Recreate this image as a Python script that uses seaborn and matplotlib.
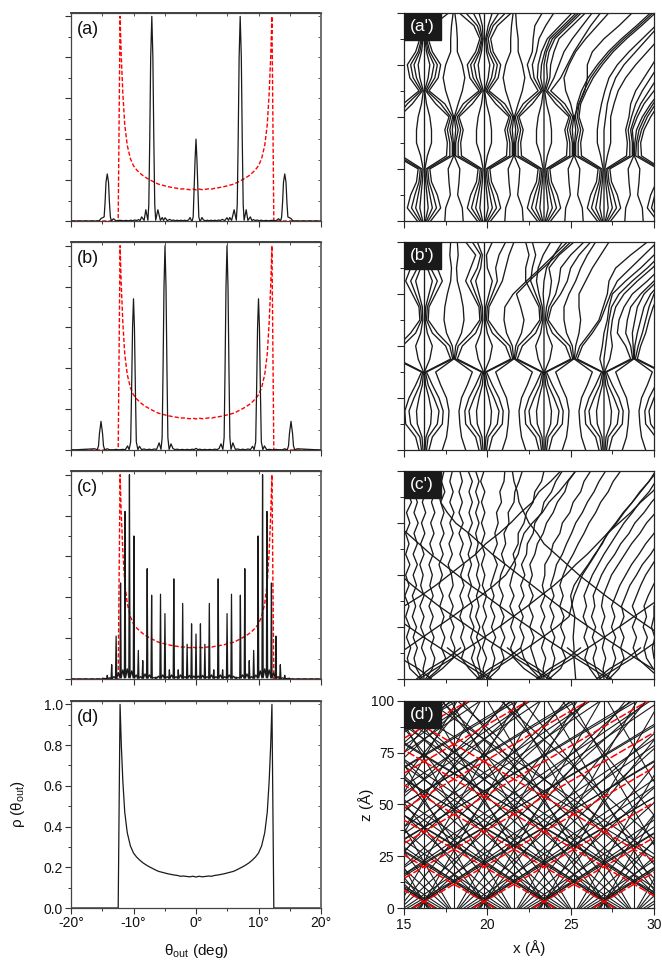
# -*- coding: utf-8 -*-
import numpy as np
import pandas as pd
import matplotlib
matplotlib.use('Agg')
import matplotlib.pyplot as plt
from matplotlib.patches import Rectangle
from matplotlib.ticker import MultipleLocator
import seaborn as sns

# angular distributions, right half only (theta >= 0), the picture is mirror symmetric
a_theta = [0, .15, .3, .45, .6, .75, .95, 1.2, 1.5, 1.8,
           2.1, 2.4, 2.7, 3, 3.3, 3.6, 3.9, 4.2, 4.6, 4.95,
           5.2, 5.4, 5.7, 6.1, 6.45, 6.6, 6.75, 6.9, 7.07, 7.25,
           7.4, 7.55, 7.7, 8.03, 8.3, 8.7, 8.95, 9.2, 9.5, 9.8,
           10.1, 10.4, 10.8, 11.2, 11.6, 12, 12.4, 12.8, 13.2, 13.55,
           13.7, 13.85, 14.0, 14.2, 14.4, 14.55, 14.7, 15.2, 15.5, 16, 20]
a_rho = [.40, .30, .16, .02, .002, .003, .017, .005, .001, .004,
         .001, .004, .001, .004, .001, .005, .002, .008, .002, .016,
         .003, .017, .003, .055, .004, .08, .4, .8, 1.0, .8,
         .4, .08, .004, .055, .003, .02, .002, .007, .002, .005,
         .001, .004, .001, .003, .001, .003, .003, .001, .011, .001,
         .02, .09, .19, .23, .19, .09, .02, .012, .001, 0, 0]

b_theta = [0, .3, .6, 1, 1.4, 1.8, 2.2, 2.6, 3, 3.4,
           3.7, 4, 4.3, 4.5, 4.65, 4.8, 4.96, 5.12, 5.27, 5.42,
           5.6, 5.9, 6.3, 6.7, 7.1, 7.5, 7.9, 8.3, 8.7, 9.05,
           9.3, 9.55, 9.7, 9.85, 10, 10.15, 10.3, 10.45, 10.7, 10.95,
           11.3, 11.8, 12.3, 12.8, 13.3, 13.8, 14.2, 14.6, 14.8, 14.95,
           15.2, 15.45, 15.6, 15.8, 16.2, 20]
b_rho = [.008, .002, .004, .001, .003, .001, .003, .001, .004, .002,
         .008, .03, .003, .06, .4, .8, 1, .8, .4, .06,
         .003, .035, .003, .005, .001, .004, .001, .005, .002, .018,
         .002, .04, .3, .6, .74, .6, .3, .04, .002, .02,
         .002, .003, .001, .003, .001, .001, .006, .001, .02, .08,
         .14, .08, .02, .001, .006, 0]

c_theta = [0, .1, .35, .61, .71, .81, 1.06, 1.32, 1.42, 1.52, 1.77, 2.03,
           2.13, 2.23, 2.48, 2.74, 2.84, 2.94, 3.19, 3.45, 3.55, 3.65, 3.9, 4.16,
           4.26, 4.36, 4.61, 4.87, 4.97, 5.07, 5.32, 5.58, 5.68, 5.78, 6.03, 6.29,
           6.39, 6.49, 6.74, 7.0, 7.1, 7.2, 7.45, 7.71, 7.81, 7.91, 8.16, 8.42,
           8.52, 8.62, 8.87, 9.13, 9.23, 9.33, 9.58, 9.84, 9.94, 10.04, 10.29, 10.55,
           10.65, 10.75, 11.0, 11.26, 11.36, 11.46, 11.71, 11.97, 12.07, 12.17, 12.42, 12.68,
           12.78, 12.88, 13.13, 13.39, 13.49, 13.59, 13.84, 14.1, 14.2, 14.3, 14.55, 14.81,
           14.91, 15.01, 15.3, 20]
c_rho = [.22, .003, .015, .003, .27, .003, .018, .003, .17, .003, .012, .003,
         .37, .003, .02, .003, .045, .003, .012, .003, .49, .003, .02, .003,
         .045, .003, .012, .003, .32, .003, .02, .003, .415, .003, .014, .003,
         .01, .003, .008, .003, .41, .004, .02, .003, .54, .004, .025, .003,
         .09, .003, .012, .003, .14, .003, .02, .004, .70, .005, .04, .005,
         1.0, .006, .05, .006, .82, .005, .045, .005, .47, .004, .03, .003,
         .21, .003, .012, .002, .07, .002, .006, .001, .018, .001, .003, .001,
         .005, 0, 0, 0]

d_theta = [0, .5, 1, 1.5, 2, 2.5, 3, 3.5, 4, 4.5, 5, 5.5, 6, 6.5, 7, 7.5,
           8, 8.5, 9, 9.5, 10, 10.5, 11, 11.4, 11.7, 11.95, 12.15, 12.45, 20]
d_rho = [.152, .156, .153, .155, .157, .156, .16, .162, .165, .168, .172, .176, .18, .187, .195, .203,
         .212, .222, .235, .25, .27, .305, .37, .47, .62, .8, 1, 0, 0]

# trajectories, x (angstrom) read at each z level
z_levels = [0, 6.25, 12.5, 18.75, 25, 31.25, 37.5, 43.75, 50, 56.25, 62.5, 68.75, 75, 81.25, 87.5, 93.75, 100]
z_levels_c = [0, 5, 10, 15, 20, 25, 30, 35, 40, 45, 50, 55, 60, 65, 70, 75, 80, 85, 90, 95, 100]

a_paths = [
    [16.2] * 17,
    [16.28, 16.45, 16.38, 16.3, 16.25, 16.4, 16.65, 16.65, 16.55, 16.35, 16.24, 16.45, 16.55, 16.35, 16.25, 16.35, 16.55],
    [16.12, 15.95, 16.02, 16.1, 16.15, 16.0, 15.75, 15.75, 15.85, 16.05, 16.16, 15.95, 15.85, 16.05, 16.15, 16.05, 15.85],
    [16.35, 16.7, 16.55, 16.4, 16.32, 17.55, 17.6, 17.45, 17.7, 16.9, 16.3, 16.65, 16.8, 16.45, 16.3, 16.45, 16.9],
    [16.05, 15.7, 15.85, 16, 16.08, 14.85, 14.8, 14.95, 14.7, 15.5, 16.1, 15.75, 15.6, 15.95, 16.1, 15.95, 15.5],
    [16.45, 16.95, 16.75, 16.5, 16.42, 17.75, 17.75, 17.6, 17.8, 17.2, 16.38, 16.85, 17.0, 16.55, 16.35, 16.55, 17.3],
    [15.95, 15.45, 15.65, 15.9, 15.98, 14.65, 14.65, 14.8, 14.6, 15.2, 16.02, 15.55, 15.4, 15.85, 16.05, 15.85, 15.1],
    [16.6, 17.2, 17, 16.65, 16.55, 17.9, 17.9, 17.75, 17.92, 17.45, 16.5, 17.05, 17.2, 16.7, 16.45, 16.7, 17.7],
    [15.8, 15.2, 15.4, 15.75, 15.85, 14.5, 14.5, 14.65, 14.48, 14.95, 15.9, 15.35, 15.2, 15.7, 15.95, 15.7, 14.7],
    [17.45, 17.5, 17.78, 17.7, 17.65, 17.98, 17.96, 17.9, 17.98, 17.75, 17.5, 17.35, 17.5, 17.8, 17.8, 17.85, 17.95],
    [18.55, 18.5, 18.22, 18.3, 18.35, 18.02, 18.04, 18.1, 18.02, 18.25, 18.5, 18.65, 18.5, 18.2, 18.2, 18.15, 18.05],
    [19.8] * 17,
    [19.88, 20.05, 19.98, 19.9, 19.85, 20, 20.25, 20.25, 20.15, 19.95, 19.84, 20.05, 20.15, 19.95, 19.9, 20.05, 20.3],
    [19.72, 19.55, 19.62, 19.7, 19.75, 19.6, 19.35, 19.35, 19.45, 19.65, 19.76, 19.55, 19.45, 19.65, 19.75, 19.7, 19.5],
    [19.95, 20.3, 20.15, 20, 19.92, 21.15, 21.2, 21.05, 21.3, 20.5, 19.9, 20.25, 20.4, 20.05, 19.95, 20.2, 20.7],
    [19.65, 19.3, 19.45, 19.6, 19.68, 18.45, 18.4, 18.55, 18.3, 19.1, 19.7, 19.35, 19.2, 19.55, 19.7, 19.55, 19.15],
    [20.05, 20.55, 20.35, 20.1, 20.02, 21.35, 21.35, 21.2, 21.4, 20.8, 19.98, 20.45, 20.6, 20.2, 20.05, 20.35, 21.1],
    [19.55, 19.05, 19.25, 19.5, 19.58, 18.25, 18.25, 18.4, 18.2, 18.8, 19.62, 19.15, 19, 19.45, 19.65, 19.4, 18.7],
    [20.2, 20.8, 20.6, 20.25, 20.15, 21.5, 21.5, 21.35, 21.52, 21.05, 20.1, 20.65, 20.8, 20.35, 20.2, 20.6, 21.45],
    [19.4, 18.8, 19, 19.35, 19.45, 18.1, 18.1, 18.25, 18.08, 18.55, 19.5, 18.95, 18.8, 19.3, 19.55, 19.2, 18.3],
    [21.05, 21.1, 21.38, 21.3, 21.25, 21.58, 21.56, 21.5, 21.58, 21.35, 21.1, 20.95, 21.1, 21.4, 21.4, 21.45, 21.55],
    [22.15, 22.1, 21.82, 21.9, 21.95, 21.62, 21.64, 21.7, 21.62, 21.85, 22.1, 22.25, 22.1, 21.85, 21.85, 21.75, 21.7],
    [23.4, 23.4, 23.4, 23.4, 23.4, 23.4, 23.4, 23.4, 23.4, 23.4, 23.4, 23.4, 23.4, 23.55, 23.9, 24.7, 25.5],
    [23.48, 23.65, 23.58, 23.5, 23.45, 23.6, 23.85, 23.85, 23.75, 23.55, 23.44, 23.6, 23.55, 23.7, 24.05, 24.85, 25.65],
    [23.32, 23.15, 23.22, 23.3, 23.35, 23.2, 22.95, 22.95, 23.05, 23.25, 23.36, 23.2, 23.25, 23.45, 23.75, 24.55, 25.35],
    [23.55, 23.9, 23.75, 23.6, 23.52, 24.75, 24.8, 24.65, 24.9, 24.1, 23.5, 23.75, 23.8, 24, 24.3, 25.1, 25.9],
    [23.25, 22.9, 23.05, 23.2, 23.28, 22.05, 22, 22.15, 21.9, 22.7, 23.3, 23, 23.05, 23.25, 23.6, 24.35, 25.1],
    [23.65, 24.15, 23.95, 23.7, 23.62, 24.95, 24.95, 24.8, 25, 24.4, 23.6, 24, 24.3, 24.6, 25.1, 25.7, 26.3],
    [23.15, 22.65, 22.85, 23.1, 23.18, 21.85, 21.85, 22, 21.8, 22.4, 23.22, 22.8, 22.7, 22.95, 23.1, 23.5, 24],
    [23.8, 24.4, 24.2, 23.85, 23.75, 25.1, 25.1, 24.95, 25.12, 24.65, 23.8, 24.4, 24.8, 25.2, 25.7, 26.2, 26.8],
    [23, 22.4, 22.6, 22.95, 23.05, 21.7, 21.7, 21.85, 21.68, 22.15, 23.05, 22.6, 22.4, 22.7, 22.75, 22.85, 23.3],
    [24.65, 24.7, 24.98, 24.9, 24.85, 25.18, 25.16, 25.1, 25.18, 25.0, 24.7, 24.6, 24.9, 25.3, 25.9, 26.6, 27.3],
    [25.75, 25.7, 25.42, 25.5, 25.55, 25.22, 25.24, 25.3, 25.22, 25.5, 25.85, 26.0, 26.0, 26.3, 27.0, 27.9, 28.7],
    [26.85, 26.5, 26.65, 26.8, 26.88, 25.65, 25.6, 25.75, 25.5, 25.6, 25.95, 26.35, 26.9, 27.55, 28.35, 29.25, 30.1],
    [26.75, 26.25, 26.45, 26.7, 26.78, 25.45, 25.45, 25.6, 25.4, 25.5, 25.8, 26.2, 26.75, 27.4, 28.2, 29.1, 29.95],
    [26.6, 26, 26.2, 26.55, 26.65, 25.3, 25.3, 25.45, 25.28, 25.4, 25.65, 26.05, 26.6, 27.25, 28.05, 28.95, 29.8],
    [27, 27, 27, 27, 27, 27, 27, 27, 27.1, 27.2, 27.4, 27.7, 28.2, 28.9, 29.6, 30.3, 31],
    [26.92, 26.75, 26.82, 26.9, 26.95, 26.8, 26.6, 26.6, 26.7, 26.85, 27.05, 27.3, 27.8, 28.5, 29.3, 30.1, 30.8],
    [27.08, 27.25, 27.18, 27.1, 27.05, 27.2, 27.4, 27.4, 27.4, 27.6, 27.85, 28.3, 28.9, 29.6, 30.3, 31, 31.5],
    [27.15, 27.5, 27.35, 27.2, 27.12, 28.35, 28.4, 28.3, 28.5, 28.6, 28.9, 29.4, 29.9, 30.4, 31, 31.6, 32.2],
    [27.25, 27.75, 27.55, 27.3, 27.22, 28.55, 28.55, 28.45, 28.65, 28.9, 29.3, 29.8, 30.3, 30.8, 31.3, 31.8, 32.3],
    [27.4, 28, 27.8, 27.45, 27.35, 28.7, 28.7, 28.6, 28.85, 29.2, 29.7, 30.2, 30.7, 31.1, 31.6, 32, 32.4],
    [28.25, 28.3, 28.58, 28.5, 28.45, 28.78, 28.76, 28.7, 29.0, 29.4, 30, 30.6, 31.1, 31.6, 32, 32.4, 32.8],
    [29.35, 29.3, 29.02, 29.1, 29.15, 28.82, 28.85, 28.95, 29.3, 29.8, 30.4, 31, 31.5],
    [30.45, 30.1, 30.25, 30.4, 30.48, 29.25, 29.2, 29.4, 29.8, 30.3, 30.9],
    [30.35, 29.85, 30.05, 30.3, 30.38, 29.05, 29.05, 29.25, 29.6, 30.1, 30.7],
    [30.2, 29.6, 29.8, 30.15, 30.25, 28.9, 28.95, 29.1, 29.45, 29.95, 30.5],
]

b_paths = [
    [16.2] * 17,
    [16.26, 16.32, 16.6, 16.65, 16.5, 16.3, 16.23, 16.55, 16.7, 16.4, 16.27, 16.3, 16.5, 16.7, 16.4, 16.3, 16.6],
    [16.14, 16.08, 15.8, 15.75, 15.9, 16.1, 16.17, 15.85, 15.7, 16, 16.13, 16.1, 15.9, 15.7, 16, 16.1, 15.8],
    [16.35, 16.45, 17, 17.1, 16.8, 16.45, 16.28, 17.8, 17.5, 16.7, 16.35, 16.4, 16.7, 17, 16.6, 16.4, 16.9],
    [16.05, 15.95, 15.4, 15.3, 15.6, 15.95, 16.12, 14.6, 14.9, 15.7, 16.05, 16, 15.7, 15.4, 15.8, 16, 15.5],
    [16.5, 16.7, 17.3, 17.35, 17.1, 16.7, 16.35, 17.92, 17.75, 17, 16.45, 16.5, 16.9, 17.3, 17, 16.7, 17.3],
    [15.9, 15.7, 15.1, 15.05, 15.3, 15.7, 16.05, 14.48, 14.65, 15.4, 15.95, 15.9, 15.5, 15.1, 15.4, 15.7, 15.1],
    [17.3, 17.55, 17.65, 17.7, 17.55, 17.2, 16.9, 17.98, 17.9, 17.55, 17.4, 17.45, 17.6, 17.8, 17.85, 17.75, 17.8],
    [18.7, 18.45, 18.35, 18.3, 18.45, 18.8, 19.1, 18.02, 18.1, 18.45, 18.6, 18.55, 18.4, 18.2, 18.15, 18.25, 18.2],
    [19.8] * 17,
    [19.86, 19.92, 20.2, 20.25, 20.1, 19.9, 19.83, 20.15, 20.3, 20, 19.87, 19.9, 20.1, 20.3, 20, 19.95, 20.3],
    [19.74, 19.68, 19.4, 19.35, 19.5, 19.7, 19.77, 19.45, 19.3, 19.6, 19.73, 19.7, 19.5, 19.3, 19.6, 19.7, 19.4],
    [19.95, 20.05, 20.6, 20.7, 20.4, 20.05, 19.88, 21.4, 21.1, 20.3, 19.95, 20, 20.3, 20.6, 20.5, 20.7, 21.1],
    [19.65, 19.55, 19, 18.9, 19.2, 19.55, 19.72, 18.2, 18.5, 19.3, 19.65, 19.6, 19.3, 19, 19.4, 19.6, 19.1],
    [20.1, 20.3, 20.9, 20.95, 20.7, 20.3, 19.95, 21.52, 21.35, 20.6, 20.05, 20.1, 20.5, 20.9, 21.1, 21.3, 21.6],
    [19.5, 19.3, 18.7, 18.65, 18.9, 19.3, 19.65, 18.08, 18.25, 19, 19.55, 19.5, 19.1, 18.7, 19, 19.3, 18.7],
    [20.9, 21.15, 21.25, 21.3, 21.15, 20.8, 20.5, 21.58, 21.5, 21.15, 21, 21.05, 21.55, 22.35, 23.2, 24, 24.8],
    [22.3, 22.05, 21.95, 21.9, 22.05, 22.4, 22.7, 21.62, 21.7, 22.05, 22.2, 22, 21.75, 22.5, 23.35, 24.2, 25],
    [23.4, 23.4, 23.4, 23.4, 23.4, 23.4, 23.4, 23.4, 23.4, 23.4, 23.4, 23.4, 23.35, 23.4, 23.55, 24.0, 24.5],
    [23.46, 23.52, 23.8, 23.85, 23.7, 23.5, 23.43, 23.75, 23.9, 23.6, 23.47, 23.55, 23.75, 23.85, 23.7, 24.3, 25.2],
    [23.34, 23.28, 23, 22.95, 23.1, 23.3, 23.37, 23.05, 22.9, 23.2, 23.33, 23.3, 23.1, 22.95, 23.05, 23.35, 23.8],
    [23.55, 23.65, 24.2, 24.3, 24, 23.65, 23.48, 25, 24.7, 23.9, 23.55, 23.7, 24.1, 24.3, 24.4, 25, 25.8],
    [23.25, 23.15, 22.6, 22.5, 22.8, 23.15, 23.32, 21.8, 22.1, 22.9, 23.25, 23.2, 22.9, 22.6, 22.7, 22.9, 22.7],
    [23.7, 23.9, 24.5, 24.55, 24.3, 23.9, 23.55, 25.12, 24.95, 24.2, 23.65, 23.85, 24.4, 24.8, 25, 25.5, 26.2],
    [23.1, 22.9, 22.3, 22.25, 22.5, 22.9, 23.25, 21.68, 21.85, 22.6, 23.15, 23.1, 22.7, 22.3, 22.3, 22.5, 22.3],
    [24.5, 24.75, 24.85, 24.9, 24.75, 24.4, 24.1, 25.18, 25.1, 24.75, 24.6, 24.6, 24.9, 25.3, 25.6, 26, 26.5],
    [25.9, 25.65, 25.55, 25.5, 25.65, 26, 26.3, 25.22, 25.3, 25.5, 25.6, 25.5, 25.5, 25.9, 26.3, 26.8, 27.3],
    [26.85, 26.75, 26.2, 26.1, 26.4, 26.75, 26.92, 25.4, 25.7, 26.3, 26.8, 27.1, 27.4, 27.8, 28.6, 29.4, 30.2],
    [26.7, 26.5, 25.9, 25.85, 26.1, 26.5, 26.85, 25.28, 25.55, 26.15, 26.7, 26.95, 27.2, 27.3, 27.7, 28.6, 29.6],
    [26.94, 26.88, 26.6, 26.55, 26.7, 26.9, 26.97, 26.75, 26.9, 27, 27.2, 27.3, 27.5, 28.3, 29.2, 30, 30.8],
    [27, 27, 27, 27, 27, 27, 27, 27, 27.1, 27.2, 27.3, 27.45, 27.9, 28.7, 29.6, 30.4, 31],
    [27.06, 27.12, 27.4, 27.45, 27.3, 27.1, 27.03, 27.35, 27.5, 27.4, 27.5, 27.7, 28.2, 29, 29.9, 30.7],
    [27.15, 27.25, 27.8, 27.9, 27.6, 27.25, 27.08, 28.6, 28.3, 27.8, 27.9, 28.2, 28.7, 29.6, 30.4],
    [27.3, 27.5, 28.1, 28.15, 27.9, 27.5, 27.15, 28.72, 28.6, 28.3, 28.4, 28.6, 29.2, 30, 30.8],
    [28.1, 28.35, 28.45, 28.5, 28.35, 28, 27.7, 28.78, 28.75, 28.7, 28.85, 29, 29.4, 30.2, 31],
    [29.5, 29.25, 29.15, 29.1, 29.25, 29.6, 29.9, 28.82, 28.85, 29, 29.2, 29.4, 29.8, 30.5, 31.2],
    [30.45, 30.35, 29.8, 29.7, 30, 30.35, 30.52, 29, 29.2, 29.5, 29.7, 29.95, 30.3],
    [30.3, 30.1, 29.5, 29.45, 29.7, 30.1, 30.45, 28.88, 29.05, 29.3, 29.5, 29.7, 30, 30.4],
    [30.54, 30.48, 30.2, 30.15, 30.3, 30.5, 30.57, 30.25, 30.1, 30.2, 30.3, 30.5],
]

c_paths = [
    # near vertical wiggly lines
    [16.0, 15.35, 15.2, 15.4, 15.15, 15.35, 15.1, 15.3, 15.05, 15.3, 15.1, 15.35, 15.1, 15.3, 15.1, 15.35, 15.15, 15.45, 15.2, 15.45, 15.25],
    [16.1, 15.75, 15.6, 15.8, 15.55, 15.75, 15.5, 15.7, 15.5, 15.75, 15.55, 15.8, 15.55, 15.8, 15.6, 15.85, 15.6, 15.8, 15.6, 15.85, 15.7],
    [16.2, 16.15, 16.3, 16.05, 16.25, 16.0, 16.2, 15.95, 16.2, 16.0, 16.15, 15.95, 16.2, 16.0, 16.25, 16.05, 16.3, 16.1, 16.3, 16.1, 16.25],
    [16.3, 16.7, 16.85, 16.6, 16.8, 16.55, 16.75, 16.5, 16.75, 16.55, 16.7, 16.5, 16.75, 16.55, 16.8, 16.6, 16.85, 16.65, 16.85, 16.65, 16.85],
    [16.4, 17.1, 17.5, 17.25, 17.45, 17.2, 17.4, 17.15, 17.35, 17.1, 17.3, 17.1, 17.35, 17.15, 17.4, 17.2, 17.4, 17.2, 17.45, 17.25, 17.4],
    [16.5, 17.3, 17.95, 18.05, 17.8, 18.0, 17.75, 17.95, 17.7, 17.95, 17.85, 17.65, 17.9, 17.7, 17.95, 17.75, 18.0, 17.75, 17.95, 17.75, 17.9],
    [19.5, 18.9, 18.45, 18.65, 18.4, 18.6, 18.35, 18.55, 18.35, 18.6, 18.4, 18.6, 18.35, 18.55, 18.3, 18.55, 18.3, 18.5, 18.3, 18.5, 18.35],
    [19.6, 19.3, 19.05, 19.25, 19.0, 19.2, 18.95, 19.1, 18.85, 19.05, 18.85, 19.05, 18.85, 19.05, 18.85, 19.1, 18.9, 19.1, 18.9, 19.1, 18.85],
    [19.7, 19.55, 19.4, 19.6, 19.35, 19.55, 19.3, 19.5, 19.35, 19.55, 19.35, 19.5, 19.3, 19.45, 19.3, 19.5, 19.3, 19.5, 19.3, 19.5, 19.3],
    [19.8, 19.75, 19.95, 19.7, 19.9, 19.7, 19.95, 19.75, 19.95, 19.7, 19.85, 19.65, 19.85, 19.65, 19.85, 19.65, 19.85, 19.65, 19.85, 19.6, 19.8],
    [19.95, 20.3, 20.45, 20.25, 20.5, 20.25, 20.45, 20.2, 20.4, 20.2, 20.4, 20.6, 20.35, 20.6, 20.45, 20.65, 20.55, 20.85, 20.75, 21.0, 21.05],
    [20.05, 20.7, 21.0, 20.8, 21.05, 20.8, 21.0, 20.75, 20.95, 20.7, 20.8, 21.05, 20.85, 21.1, 21.0, 21.3, 21.25, 21.6, 21.65, 21.9, 22.1],
    [23.1, 22.2, 21.6, 21.4, 21.65, 21.4, 21.6, 21.35, 21.6, 21.35, 21.5, 21.7, 21.55, 21.85, 21.85, 22.2, 22.35, 22.75, 22.85, 23.25, 23.4],
    [23.2, 22.6, 22.2, 22.0, 22.2, 21.95, 22.15, 21.9, 22.2, 22.0, 22.25, 22.05, 22.35, 22.4, 22.75, 22.85, 23.25, 23.4, 23.85, 24.1, 24.5],
    [23.3, 23.0, 22.8, 22.6, 22.8, 22.55, 22.75, 22.5, 22.75, 22.5, 22.7, 22.55, 22.85, 23.0, 23.35, 23.55, 23.95, 24.2, 24.65, 24.85, 25.3],
    [23.4, 23.35, 23.5, 23.25, 23.45, 23.2, 23.45, 23.2, 23.45, 23.3, 23.45, 23.45, 23.8, 23.95, 24.35, 24.5, 24.95, 25.15, 25.6, 25.8, 26.2],
    [23.55, 23.9, 24.05, 23.85, 24.05, 23.8, 24.0, 23.75, 24.0, 23.8, 24.0, 24.15, 24.5, 24.75, 25.05, 25.3, 25.7, 26.0, 26.4, 26.7, 27.1],
    [23.7, 24.4, 24.7, 24.45, 24.65, 24.4, 24.6, 24.35, 24.55, 24.35, 24.55, 24.8, 25.15, 25.45, 25.8, 26.1, 26.5, 26.8, 27.25, 27.55, 28],
    [25.3, 25.25, 25.2, 25.2, 25.15, 25.2, 25.25, 25.1, 25.0, 25.2, 25.6, 26.05, 26.45, 26.9, 27.2, 27.7, 28.15, 28.7, 29.15, 29.7, 30.1],
    [26.6, 26.15, 25.85, 26.05, 25.8, 26.0, 25.75, 25.95, 25.8, 26.05, 26.3, 26.65, 27, 27.4, 27.8, 28.2, 28.7, 29.15, 29.7, 30.1, 30.6],
    [26.8, 26.5, 26.35, 26.55, 26.3, 26.5, 26.25, 26.45, 26.35, 26.6, 26.85, 27.2, 27.65, 28, 28.5, 28.85, 29.4, 29.85, 30.4],
    [27, 26.95, 27.1, 26.9, 27.05, 26.85, 27.05, 26.85, 26.95, 27.2, 27.45, 27.85, 28.25, 28.65, 29.15, 29.55, 30.1, 30.5],
    [27.15, 27.5, 27.7, 27.5, 27.7, 27.45, 27.65, 27.45, 27.7, 27.95, 28.3, 28.65, 29.1, 29.5, 30, 30.4],
    [27.3, 27.9, 28.2, 28.0, 28.2, 27.95, 28.2, 28.05, 28.3, 28.55, 28.95, 29.3, 29.8, 30.2],
    [30.4, 29.7, 29.0, 28.75, 28.95, 28.7, 28.95, 28.7, 28.95, 29.2, 29.5, 29.9, 30.3],
    [30.6, 29.95, 29.55, 29.4, 29.6, 29.35, 29.55, 29.4, 29.65, 29.95, 30.3],
    [30.8, 30.3, 30.0, 29.9, 30.05, 29.85, 30.0, 30.0, 30.3],
    # caustic lines going up to the right
    [8.7, 9.7, 10.6, 11.5, 12.4, 13.3, 14.1, 15, 16, 16.9, 17.7, 18.5, 19.3, 19.9, 20.7, 21.4, 22, 22.7, 23.1, 23.8, 24.4],
    [12.3, 13.3, 14.3, 15.2, 16.1, 17, 17.9, 18.75, 19.6, 20.4, 21.1, 21.5, 21.85, 22, 22.2, 22.7, 23.3, 23.7, 24.3, 24.8, 25.3],
    [15.9, 16.9, 17.9, 18.85, 19.8, 20.7, 21.55, 22.4, 23.2, 24, 24.7, 25.3, 26, 26.6, 27.2, 27.9, 28.6, 29.2, 29.9, 30.5, 31],
    [19.5, 20.5, 21.45, 22.4, 23.3, 24.15, 24.9, 25.05, 25.2, 25.45, 25.7, 26.1, 26.5, 26.85, 27.25, 27.75, 28.2, 28.7, 29.2, 29.7, 30.2],
    [23.1, 24.1, 25.1, 26.05, 27, 27.9, 28.8, 29.7, 30.6, 31.5],
    [26.7, 27.7, 28.7, 29.6, 30.5],
    [15.75, 16.55, 17.6, 18.4],
    [19.35, 20.15, 21.2, 22.0],
    [22.95, 23.75, 24.8, 25.6],
    [26.55, 27.35, 28.4, 29.2],
    # caustic lines going up to the left
    [20.1, 19.1, 18.1, 17.15, 16.2, 15.3, 14.4],
    [23.7, 22.7, 21.7, 20.75, 19.8, 18.9, 18, 17.1, 16.3, 15.5, 14.8],
    [27.3, 26.3, 25.3, 24.35, 23.4, 22.5, 21.6, 20.75, 19.9, 19, 18.2, 17.4, 16.6, 15.9, 15.2, 14.5],
    [30.9, 29.9, 28.9, 27.95, 27, 26.1, 25.2, 24.3, 23.5, 22.7, 21.9, 21.1, 20.3, 19.6, 18.9, 18.1, 17.6, 17.2, 17.05, 17.0, 17.1],
    [34.5, 33.5, 32.5, 31.55, 30.6, 29.7, 28.8, 27.95, 27.1, 26.3, 25.5, 24.8, 24.1, 23.4, 23.0, 22.5, 22.2, 21.9, 21.8, 21.6, 21.5],
    [16.65, 15.85, 14.8, 14.0],
    [20.25, 19.45, 18.4, 17.6],
    [23.85, 23.05, 22.0, 21.2],
    [27.45, 26.65, 25.6, 24.8],
]

# rays of panel d', x at z = 0 for each slope dx/dz, all read from the crossings
ray_slopes_up = [.072, .072, .1, .1, .138, .138, .184, .184, .205, .21]
ray_x0_up = [
    [8.8, 12.4, 16, 19.6, 23.2, 26.8],
    [11, 14.6, 18.2, 21.8, 25.4, 29],
    [5.12, 8.72, 12.32, 15.92, 19.52, 23.12, 26.72],
    [7.5, 11.1, 14.7, 18.3, 21.9, 25.5, 29.1],
    [1.4, 5, 8.6, 12.2, 15.8, 19.4, 23, 26.6],
    [4, 7.6, 11.2, 14.8, 18.4, 22, 25.6, 29.2],
    [-2.4, 1.2, 4.8, 8.4, 12, 15.6, 19.2, 22.8, 26.4],
    [.6, 4.2, 7.8, 11.4, 15, 18.6, 22.2, 25.8, 29.4],
    [-2.55, 1.05, 4.65, 8.25, 11.85, 15.45, 19.05, 22.65, 26.25],
    [-2.8, .8, 4.4, 8, 11.6, 15.2, 18.8, 22.4, 26, 29.6],
]
ray_slopes_down = [-.072, -.072, -.1, -.1, -.138, -.138, -.184, -.184, -.205, -.21]
ray_x0_down = [
    [16.4, 20, 23.6, 27.2, 30.8, 34.4],
    [17.8, 21.4, 25, 28.6, 32.2],
    [16.48, 20.08, 23.68, 27.28, 30.88, 34.48],
    [17.7, 21.3, 24.9, 28.5, 32.1],
    [16.6, 20.2, 23.8, 27.4, 31, 34.6],
    [17.6, 21.2, 24.8, 28.4, 32],
    [16.8, 20.4, 24, 27.6, 31.2, 34.8],
    [17.4, 21, 24.6, 28.2, 31.8],
    [16.95, 20.55, 24.15, 27.75, 31.35, 34.95],
    [17.2, 20.8, 24.4, 28, 31.6],
]
ray_vertical = [16.2, 18, 19.8, 21.6, 23.4, 25.2, 27, 28.8]
red_slope = .213
red_x0_up = [-2.44, 1.16, 4.76, 8.36, 11.96, 15.56, 19.16, 22.76, 26.36]
red_x0_down = [16.84, 20.44, 24.04, 27.64, 31.24, 34.84]

panel_left = ['(a)', '(b)', '(c)', '(d)']
panel_right = ["(a')", "(b')", "(c')", "(d')"]
theta_ticks = [-20, -10, 0, 10, 20]
theta_labels = ['-20°', '-10°', '0°', '10°', '20°']
rho_ticks = [0, .2, .4, .6, .8, 1]
rho_labels = ['0.0', '0.2', '0.4', '0.6', '0.8', '1.0']
x_ticks = [15, 20, 25, 30]
z_ticks = [0, 25, 50, 75, 100]

sns.set_theme(style='ticks')
plt.rcParams['font.family'] = ['Liberation Sans', 'DejaVu Sans']
plt.rcParams['mathtext.default'] = 'regular'
plt.rcParams['axes.unicode_minus'] = False

W, H = 662., 961.
tops = [12.7, 242, 471, 700.7]
bottoms = [221, 450, 679, 908]


def mirrored(theta, rho):
    theta, rho = np.array(theta), np.array(rho)
    return pd.DataFrame({'theta': np.r_[-theta[:0:-1], theta], 'rho': np.r_[rho[:0:-1], rho]})


def paths_frame(rows, levels):
    parts = []
    for i, row in enumerate(rows):
        parts.append(pd.DataFrame({'x': row, 'z': levels[:len(row)], 'line': i}))
    return pd.concat(parts, ignore_index=True)


def rays_frame(x0_lists, slopes):
    rows = []
    for x0s, s in zip(x0_lists, slopes):
        for x0 in x0s:
            rows.append([x0, x0 + s * 100])
    return paths_frame(rows, [0, 100])


def draw_paths(ax, frame, **kw):
    sns.lineplot(data=frame, x='x', y='z', units='line', estimator=None, sort=False, ax=ax, legend=False, **kw)


frames_theta = [mirrored(a_theta, a_rho), mirrored(b_theta, b_rho), mirrored(c_theta, c_rho), mirrored(d_theta, d_rho)]
red_curve = mirrored(d_theta, d_rho)
frames_paths = [paths_frame(a_paths, z_levels), paths_frame(b_paths, z_levels), paths_frame(c_paths, z_levels_c)]

fig = plt.figure(figsize=(W / 100, H / 100), dpi=100)

for i in range(4):
    pos = [71 / W, 1 - bottoms[i] / H, 250 / W, (bottoms[i] - tops[i]) / H]
    ax = fig.add_axes(pos)
    if i < 3:
        sns.lineplot(data=red_curve, x='theta', y='rho', color='red', lw=1, linestyle=(0, (3, 1.5)),
                     estimator=None, sort=False, ax=ax)
    sns.lineplot(data=frames_theta[i], x='theta', y='rho', color='k', lw=.9, estimator=None, sort=False, ax=ax,
                 zorder=3 if i < 3 else 2)
    ax.set_xlim(-20, 20)
    ax.set_ylim(0, 1.018)
    ax.set_xticks(theta_ticks)
    ax.xaxis.set_minor_locator(MultipleLocator(5))
    ax.set_yticks(rho_ticks)
    ax.yaxis.set_minor_locator(MultipleLocator(.1))
    ax.tick_params(which='major', direction='out', length=4, width=.8, color='#333333', pad=2, labelsize=10, labelcolor='#111111')
    ax.tick_params(which='minor', direction='out', length=2.5, width=.7, color='#333333')
    for side in ax.spines:
        ax.spines[side].set_visible(True)
        ax.spines[side].set_linewidth(.9)
        ax.spines[side].set_color('#444444')
    ax.spines['right'].set_linewidth(1.3)
    ax.spines['right'].set_color('#777777')
    sec_x = ax.secondary_xaxis('top')
    sec_x.set_xticks(theta_ticks)
    sec_x.xaxis.set_minor_locator(MultipleLocator(5))
    sec_x.tick_params(which='both', direction='in', length=2, width=.6, labeltop=False, color='#333333')
    sec_y = ax.secondary_yaxis('right')
    sec_y.set_yticks(rho_ticks)
    sec_y.yaxis.set_minor_locator(MultipleLocator(.1))
    sec_y.tick_params(which='both', direction='in', length=2, width=.6, labelright=False, color='#333333')
    ax.text(.025, .92, panel_left[i], transform=ax.transAxes, fontsize=13, color='#111111', va='center', zorder=6)
    if i == 3:
        ax.set_xticklabels(theta_labels)
        ax.set_yticklabels(rho_labels)
        ax.set_xlabel('θ$_{out}$ (deg)', fontsize=11, color='#111111')
        ax.set_ylabel('ρ (θ$_{out}$)', fontsize=11, color='#111111')
        ax.xaxis.set_label_coords(.5, -.165)
        ax.yaxis.set_label_coords(-.175, .5)
    else:
        ax.set_xticklabels([])
        ax.set_yticklabels([])
        ax.set_xlabel('')
        ax.set_ylabel('')

for i in range(4):
    pos = [404 / W, 1 - bottoms[i] / H, 250 / W, (bottoms[i] - tops[i]) / H]
    ax = fig.add_axes(pos)
    if i < 3:
        draw_paths(ax, frames_paths[i], color='k', lw=.95)
    else:
        draw_paths(ax, rays_frame(ray_x0_up + ray_x0_down, ray_slopes_up + ray_slopes_down), color='k', lw=.8)
        draw_paths(ax, paths_frame([[x, x] for x in ray_vertical], [0, 100]), color='k', lw=.8)
        draw_paths(ax, rays_frame([red_x0_up, red_x0_down], [red_slope, -red_slope]), color='red', lw=1.1,
                   linestyle=(0, (5, 1.5)), zorder=4)
    ax.set_xlim(15, 30)
    ax.set_ylim(0, 100)
    ax.set_xticks(x_ticks)
    ax.xaxis.set_minor_locator(MultipleLocator(2.5))
    ax.set_yticks(z_ticks)
    ax.yaxis.set_minor_locator(MultipleLocator(12.5))
    ax.tick_params(which='major', direction='out', length=5, width=.8, pad=2, labelsize=10, labelcolor='#111111')
    ax.tick_params(which='minor', direction='out', length=3, width=.7)
    for side in ax.spines:
        ax.spines[side].set_visible(True)
        ax.spines[side].set_linewidth(.9)
    ax.add_patch(Rectangle((0, 1 - 27. / (bottoms[i] - tops[i])), 37 / 250., 27. / (bottoms[i] - tops[i]),
                           transform=ax.transAxes, color='k', zorder=8))
    ax.text(.022, .935, panel_right[i], transform=ax.transAxes, fontsize=12.5, color='white', va='center', zorder=9)
    if i == 3:
        ax.set_xlabel('x (Å)', fontsize=11, color='#111111')
        ax.set_ylabel('z (Å)', fontsize=11, color='#111111')
        ax.xaxis.set_label_coords(.5, -.155)
        ax.yaxis.set_label_coords(-.12, .5)
    else:
        ax.set_xticklabels([])
        ax.set_yticklabels([])
        ax.set_xlabel('')
        ax.set_ylabel('')

fig.savefig('out.png', dpi=100)
